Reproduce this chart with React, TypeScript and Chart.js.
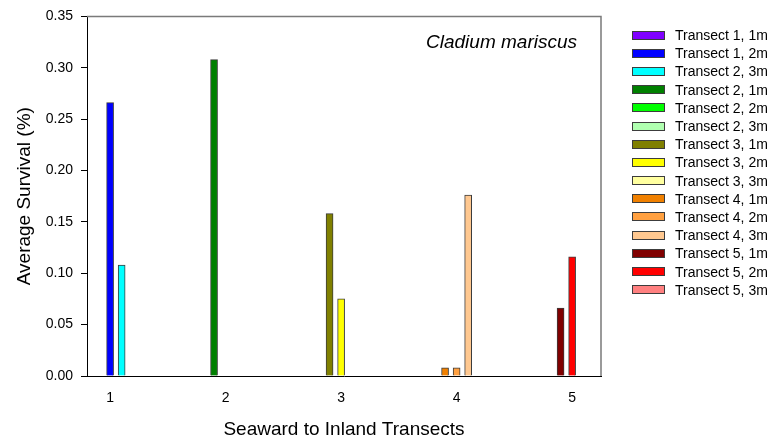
import React, { useEffect, useRef } from 'react';
import { Chart, registerables } from 'chart.js';

Chart.register(...registerables);

// ---------- data ----------
const transectTicks: number[] = [1, 2, 3, 4, 5];
const yTickValues: number[] = [0, 0.05, 0.1, 0.15, 0.2, 0.25, 0.3, 0.35];

const seriesLabels: string[] = [
  'Transect 1, 1m', 'Transect 1, 2m', 'Transect 2, 3m',
  'Transect 2, 1m', 'Transect 2, 2m', 'Transect 2, 3m',
  'Transect 3, 1m', 'Transect 3, 2m', 'Transect 3, 3m',
  'Transect 4, 1m', 'Transect 4, 2m', 'Transect 4, 3m',
  'Transect 5, 1m', 'Transect 5, 2m', 'Transect 5, 3m',
];
// transect (group) each series belongs to, and distance slot (0=1m,1=2m,2=3m)
const seriesTransect: number[] = [1, 1, 1, 2, 2, 2, 3, 3, 3, 4, 4, 4, 5, 5, 5];
const seriesDistance: number[] = [0, 1, 2, 0, 1, 2, 0, 1, 2, 0, 1, 2, 0, 1, 2];
const seriesValues: number[] = [
  0, 0.266, 0.108,
  0.308, 0, 0,
  0.158, 0.075, 0,
  0.008, 0.008, 0.176,
  0.066, 0.116, 0,
];
const seriesColors: string[] = [
  '#8000ff', '#0000ff', '#00ffff',
  '#008000', '#00ff00', '#b0ffb0',
  '#808000', '#ffff00', '#ffffa0',
  '#f08000', '#ffa040', '#ffc890',
  '#800000', '#ff0000', '#ff8080',
];

const xTitle = 'Seaward to Inland Transects';
const yTitle = 'Average Survival (%)';
const chartNote = 'Cladium mariscus';

const FONT = "Arial, 'Liberation Sans', sans-serif";

const framePlugin = {
  id: 'frame',
  afterDraw(chart: any) {
    const { ctx, chartArea } = chart;
    const { left, right, top, bottom } = chartArea;
    ctx.save();
    ctx.strokeStyle = '#7a7a7a';
    ctx.lineWidth = 1.5;
    ctx.beginPath();
    ctx.moveTo(left, top);
    ctx.lineTo(right, top);
    ctx.lineTo(right, bottom);
    ctx.stroke();
    ctx.fillStyle = '#000';
    ctx.font = `italic 19px ${FONT}`;
    ctx.textAlign = 'right';
    ctx.textBaseline = 'alphabetic';
    ctx.fillText(chartNote, right - 24, top + 32);
    ctx.restore();
  },
};

export default function App() {
  const canvasRef = useRef<HTMLCanvasElement | null>(null);

  useEffect(() => {
    const canvas = canvasRef.current;
    if (!canvas) return;
    const chart = new Chart(canvas, {
      type: 'bar',
      data: {
        datasets: seriesLabels.map((label, i) => ({
          label,
          data: [{ x: seriesTransect[i] + (seriesDistance[i] - 1) * 0.1, y: seriesValues[i] }],
          backgroundColor: seriesColors[i],
          borderColor: '#3c3c3c',
          borderWidth: 1,
          barThickness: 7,
          grouped: false,
        })),
      } as any,
      options: {
        responsive: false,
        animation: false,
        devicePixelRatio: 1,
        layout: { padding: { left: 0, right: 169, top: 14, bottom: 0 } },
        plugins: {
          legend: { display: false },
          tooltip: { enabled: false },
        },
        scales: {
          x: {
            type: 'linear',
            offset: false,
            min: 0.8,
            max: 5.25,
            afterBuildTicks: (s: any) => {
              s.ticks = transectTicks.map((v) => ({ value: v }));
            },
            afterFit: (s: any) => {
              s.height = 68;
            },
            grid: { display: false },
            border: { display: true, color: '#000', width: 1 },
            ticks: {
              color: '#000',
              padding: 6,
              font: { family: FONT, size: 14 },
              callback: (v: any) => String(v),
            },
            title: {
              display: true,
              text: xTitle,
              color: '#000',
              font: { family: FONT, size: 19 },
              padding: { top: 0, bottom: 2.6 },
            },
          },
          y: {
            type: 'linear',
            min: 0,
            max: 0.35,
            afterBuildTicks: (s: any) => {
              s.ticks = yTickValues.map((v) => ({ value: v }));
            },
            afterFit: (s: any) => {
              s.width = 87;
            },
            grid: {
              display: true,
              drawOnChartArea: false,
              drawTicks: true,
              tickLength: 6,
              color: '#000',
            },
            border: { display: true, color: '#000', width: 1 },
            ticks: {
              color: '#000',
              padding: 8,
              font: { family: FONT, size: 14 },
              callback: (v: any) => Number(v).toFixed(2),
            },
            title: {
              display: true,
              text: yTitle,
              color: '#000',
              font: { family: FONT, size: 19 },
              padding: { top: 13.6, bottom: 0 },
            },
          },
        },
      } as any,
      plugins: [framePlugin],
    });
    return () => chart.destroy();
  }, []);

  return (
    <div style={{ position: 'absolute', left: 0, top: 0, width: 770, height: 444, background: '#fff' }}>
      <canvas ref={canvasRef} width={770} height={444} style={{ display: 'block' }} />
      <div style={{ position: 'absolute', left: 632, top: 26 }}>
        {seriesLabels.map((label, i) => (
          <div
            key={i}
            style={{ display: 'flex', alignItems: 'center', height: 18.2 }}
          >
            <div
              style={{
                width: 33,
                height: 9,
                boxSizing: 'border-box',
                border: '1px solid #3c3c3c',
                background: seriesColors[i],
              }}
            />
            <span
              style={{
                marginLeft: 10,
                fontFamily: FONT,
                fontSize: 14,
                lineHeight: '14px',
                color: '#000',
                whiteSpace: 'nowrap',
              }}
            >
              {label}
            </span>
          </div>
        ))}
      </div>
    </div>
  );
}
